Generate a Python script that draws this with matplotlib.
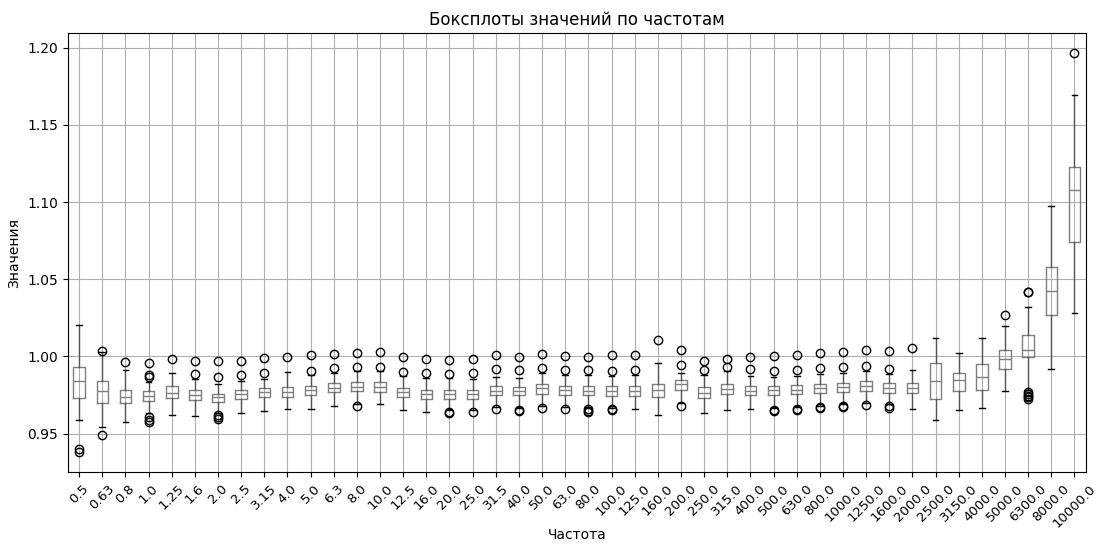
import matplotlib
matplotlib.use("Agg")
import matplotlib.pyplot as plt

freqs = ["0.5", "0.63", "0.8", "1.0", "1.25", "1.6", "2.0", "2.5", "3.15", "4.0",
         "5.0", "6.3", "8.0", "10.0", "12.5", "16.0", "20.0", "25.0", "31.5", "40.0",
         "50.0", "63.0", "80.0", "100.0", "125.0", "160.0", "200.0", "250.0", "315.0",
         "400.0", "500.0", "630.0", "800.0", "1000.0", "1250.0", "1600.0", "2000.0",
         "2500.0", "3150.0", "4000.0", "5000.0", "6300.0", "8000.0", "10000.0"]

whislo = [0.9586, 0.9543, 0.9573, 0.9633, 0.9622, 0.9616, 0.9633, 0.9633, 0.9646, 0.9659,
          0.9659, 0.9676, 0.9690, 0.9689, 0.9652, 0.9642, 0.9655, 0.9655, 0.9670, 0.9668,
          0.9680, 0.9670, 0.9670, 0.9668, 0.9659, 0.9622, 0.9695, 0.9633, 0.9652, 0.9659,
          0.9665, 0.9670, 0.9680, 0.9690, 0.9700, 0.9690, 0.9659, 0.9586, 0.9655, 0.9665,
          0.9775, 0.9785, 0.9919, 1.0283]
q1 = [0.9730, 0.9700, 0.9700, 0.9712, 0.9730, 0.9719, 0.9706, 0.9723, 0.9736, 0.9738,
      0.9747, 0.9766, 0.9773, 0.9766, 0.9736, 0.9723, 0.9723, 0.9725, 0.9747, 0.9747,
      0.9758, 0.9751, 0.9747, 0.9745, 0.9745, 0.9736, 0.9785, 0.9730, 0.9755, 0.9747,
      0.9747, 0.9753, 0.9762, 0.9768, 0.9777, 0.9764, 0.9760, 0.9721, 0.9773, 0.9779,
      0.9918, 0.9996, 1.0266, 1.0738]
med = [0.9843, 0.9773, 0.9738, 0.9740, 0.9760, 0.9751, 0.9734, 0.9755, 0.9766, 0.9770,
       0.9781, 0.9798, 0.9800, 0.9800, 0.9766, 0.9755, 0.9753, 0.9755, 0.9777, 0.9777,
       0.9792, 0.9783, 0.9777, 0.9777, 0.9777, 0.9783, 0.9818, 0.9764, 0.9790, 0.9778,
       0.9779, 0.9783, 0.9794, 0.9800, 0.9809, 0.9796, 0.9796, 0.9843, 0.9848, 0.9869,
       0.9983, 1.0043, 1.0424, 1.1079]
q3 = [0.9929, 0.9841, 0.9785, 0.9773, 0.9807, 0.9785, 0.9758, 0.9785, 0.9796, 0.9800,
      0.9809, 0.9826, 0.9833, 0.9833, 0.9796, 0.9785, 0.9785, 0.9785, 0.9805, 0.9800,
      0.9820, 0.9811, 0.9805, 0.9805, 0.9805, 0.9820, 0.9850, 0.9800, 0.9822, 0.9806,
      0.9807, 0.9813, 0.9822, 0.9826, 0.9839, 0.9826, 0.9826, 0.9959, 0.9891, 0.9953,
      1.0043, 1.0139, 1.0579, 1.1225]
whishi = [1.0204, 1.0026, 0.9912, 0.9837, 0.9893, 0.9856, 0.9822, 0.9843, 0.9852, 0.9901,
          0.9882, 0.9895, 0.9903, 0.9903, 0.9873, 0.9860, 0.9858, 0.9852, 0.9865, 0.9858,
          0.9895, 0.9882, 0.9876, 0.9871, 0.9878, 0.9955, 0.9895, 0.9880, 0.9903, 0.9875,
          0.9867, 0.9873, 0.9884, 0.9895, 0.9903, 0.9886, 0.9912, 1.0116, 1.0021, 1.0116,
          1.0195, 1.0322, 1.0975, 1.1695]
outliers = [
    [0.9400, 0.9378],
    [1.0036, 0.9489],
    [0.9966],
    [0.9955, 0.9880, 0.9865, 0.9607, 0.9590, 0.9575],
    [0.9983],
    [0.9972, 0.9886],
    [0.9972, 0.9867, 0.9620, 0.9610, 0.9597],
    [0.9972, 0.9882],
    [0.9989, 0.9893],
    [0.9996],
    [1.0009, 0.9906],
    [1.0015, 0.9925],
    [1.0019, 0.9929, 0.9676],
    [1.0026, 0.9929],
    [0.9996, 0.9901],
    [0.9985, 0.9893],
    [0.9979, 0.9888, 0.9642, 0.9631],
    [0.9985, 0.9893, 0.9642],
    [1.0006, 0.9916, 0.9659],
    [0.9994, 0.9910, 0.9655, 0.9648],
    [1.0015, 0.9923, 0.9663],
    [1.0000, 0.9912, 0.9657],
    [0.9994, 0.9912, 0.9659, 0.9648, 0.9637],
    [1.0009, 0.9906, 0.9657, 0.9650],
    [1.0009, 0.9912],
    [1.0109],
    [1.0039, 0.9946, 0.9676],
    [0.9972, 0.9912],
    [0.9983, 0.9933],
    [0.9996, 0.9918],
    [1.0002, 0.9906, 0.9650, 0.9644],
    [1.0009, 0.9912, 0.9661, 0.9652],
    [1.0021, 0.9925, 0.9670, 0.9665],
    [1.0028, 0.9931, 0.9678, 0.9670],
    [1.0043, 0.9936, 0.9682],
    [1.0032, 0.9918, 0.9676, 0.9668],
    [1.0054],
    [],
    [],
    [],
    [1.0266],
    [1.0418, 1.0414, 0.9768, 0.9755, 0.9745, 0.9735, 0.9725],
    [],
    [1.1965],
]

stats = []
for i, name in enumerate(freqs):
    stats.append({
        "label": name,
        "whislo": whislo[i], "q1": q1[i], "med": med[i],
        "q3": q3[i], "whishi": whishi[i], "fliers": outliers[i],
    })

fig, ax = plt.subplots(figsize=(10.97, 5.44), dpi=100)
fig.subplots_adjust(left=0.0616, right=0.990, top=0.939, bottom=0.1318)

ax.bxp(
    stats,
    boxprops=dict(color="#7f7f7f", linewidth=1.0),
    medianprops=dict(color="#7f7f7f", linewidth=1.0),
    whiskerprops=dict(color="#555555", linewidth=1.0),
    capprops=dict(color="black", linewidth=1.0),
    flierprops=dict(marker="o", markerfacecolor="none", markeredgecolor="black"),
)
ax.grid(True, color="#b0b0b0", linewidth=0.8)
ax.set_axisbelow(True)
ax.set_title("Боксплоты значений по частотам")
ax.set_xlabel("Частота", labelpad=-1)
ax.set_ylabel("Значения")
ax.set_xticks(range(1, len(freqs) + 1))
ax.set_xticklabels(freqs, rotation=45, fontsize=9.5)
ax.set_yticks([0.95, 1.00, 1.05, 1.10, 1.15, 1.20])

fig.savefig("out.png", dpi=100)
